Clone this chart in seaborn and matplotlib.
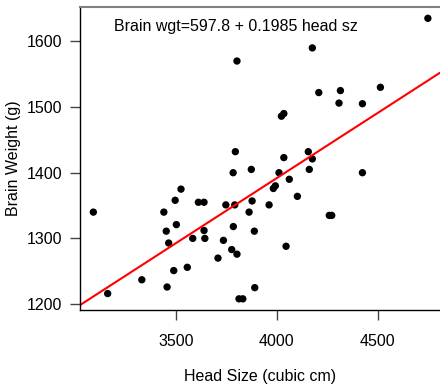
import matplotlib

matplotlib.use("Agg")
import matplotlib.pyplot as plt
import pandas as pd
import seaborn as sns

# head size (cubic cm) vs brain weight (g)
head_size = [
    4748, 3803, 4176, 4208, 4315, 4513, 4308, 4424, 4023, 4035,
    3795, 4156, 4035, 4176, 3784, 3874, 4011, 4161, 4424, 3092,
    3526, 3497, 3441, 3612, 3640, 3748, 3792, 3878, 3863, 3962,
    3983, 3993, 4062, 4102, 4260, 4272, 3453, 3503, 3465, 3584,
    3640, 3644, 3785, 3889, 3736, 3777, 3803, 3709, 4046, 3557,
    3490, 3332, 3457, 3163, 3891, 3813, 3832,
]
brain_wgt = [
    1635, 1570, 1590, 1522, 1525, 1530, 1506, 1505, 1486, 1490,
    1432, 1432, 1423, 1421, 1400, 1405, 1400, 1405, 1400, 1340,
    1375, 1358, 1340, 1355, 1355, 1351, 1351, 1357, 1340, 1351,
    1376, 1380, 1390, 1364, 1335, 1335, 1311, 1321, 1293, 1300,
    1312, 1300, 1318, 1311, 1297, 1283, 1276, 1270, 1288, 1256,
    1251, 1237, 1226, 1216, 1225, 1208, 1208,
]
intercept = 597.8
slope = 0.1985
x_ticks = [3500, 4000, 4500]
y_ticks = [1200, 1300, 1400, 1500, 1600]

df = pd.DataFrame({"head": head_size, "brain": brain_wgt})

sns.set_style("ticks")
plt.rcParams["font.family"] = ["Liberation Sans", "DejaVu Sans"]
plt.rcParams["text.color"] = "black"
plt.rcParams["axes.labelcolor"] = "black"
plt.rcParams["xtick.labelcolor"] = "black"
plt.rcParams["ytick.labelcolor"] = "black"

fig = plt.figure(figsize=(4.4, 3.86), dpi=100)
fig.subplots_adjust(left=80 / 440, right=1.0, bottom=76 / 386, top=1 - 6.5 / 386)
ax = fig.add_subplot(111)

sns.scatterplot(data=df, x="head", y="brain", color="black", s=28, edgecolor="none", ax=ax)
ax.axline((0, intercept), slope=slope, color="red", lw=1.5)

ax.set_xlim(3026, 4808)
ax.set_ylim(1191, 1653)
ax.set_xticks(x_ticks)
ax.set_yticks(y_ticks)
ax.tick_params(axis="both", labelsize=11.5, length=7, color="#444444", width=1)
ax.tick_params(axis="x", pad=10)
ax.tick_params(axis="y", pad=6)

ax.spines["right"].set_visible(False)
ax.spines["top"].set_color("#808080")
ax.spines["top"].set_linewidth(1.5)
for side in ["left", "bottom"]:
    ax.spines[side].set_color("black")
    ax.spines[side].set_linewidth(1)

ax.text(3195, 1622, f"Brain wgt={intercept} + {slope} head sz", fontsize=11.5, va="center")
ax.set_xlabel("Head Size (cubic cm)", fontsize=11.5, labelpad=15)
ax.set_ylabel("Brain Weight (g)", fontsize=11.5, labelpad=4)

fig.savefig("out.png", dpi=100)
